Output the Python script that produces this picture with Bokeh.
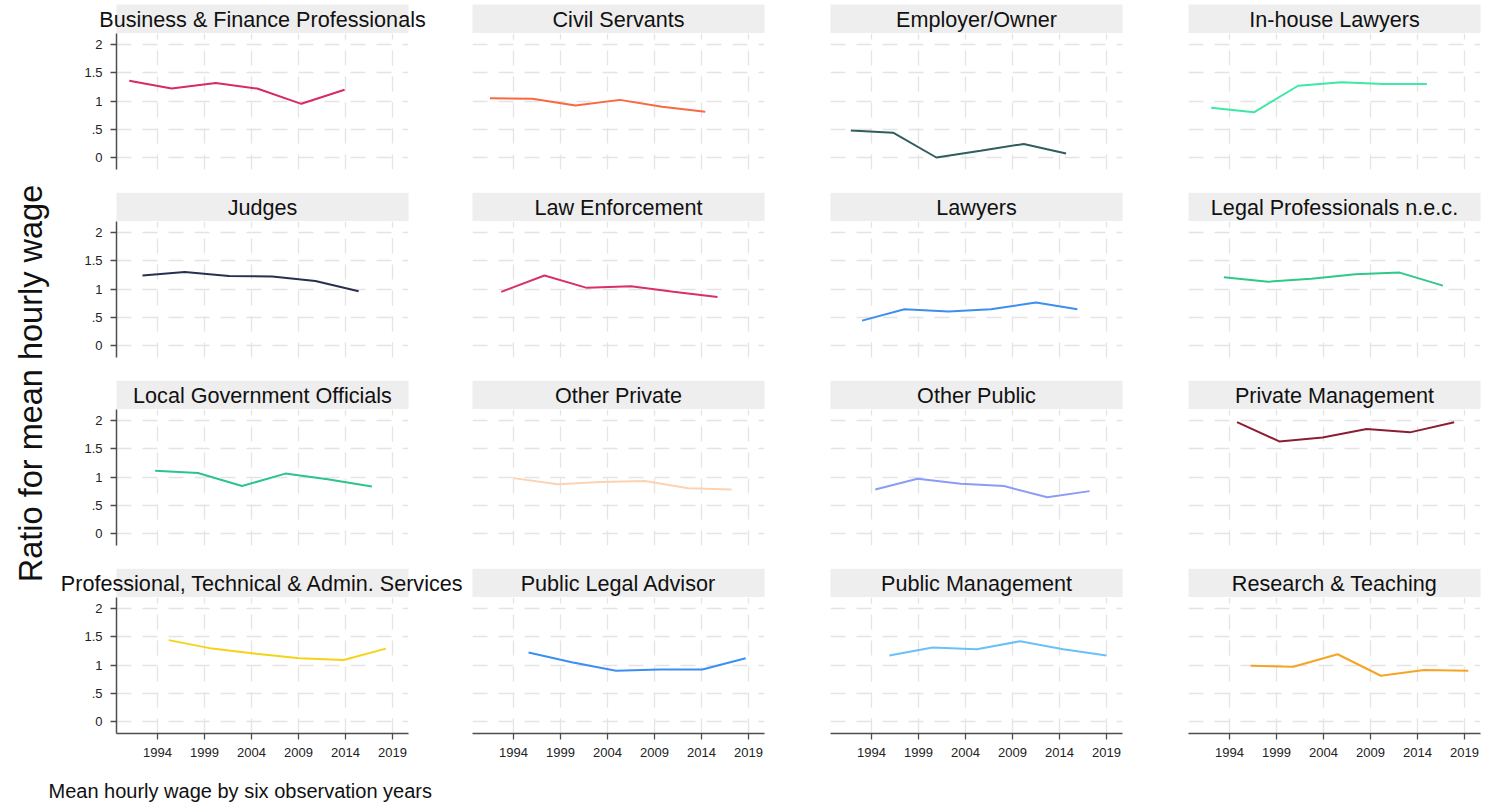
import math
from bokeh.plotting import figure
from bokeh.layouts import row, column
from bokeh.models import Range1d, FixedTicker, BoxAnnotation, Label, CustomJSTickFormatter
from bokeh.embed import file_html
from bokeh.resources import INLINE

# ---------------- data ----------------
TITLES = [
    "Business & Finance Professionals", "Civil Servants", "Employer/Owner", "In-house Lawyers",
    "Judges", "Law Enforcement", "Lawyers", "Legal Professionals n.e.c.",
    "Local Government Officials", "Other Private", "Other Public", "Private Management",
    "Professional, Technical & Admin. Services", "Public Legal Advisor", "Public Management",
    "Research & Teaching",
]
YEAR_TICKS = [1994, 1999, 2004, 2009, 2014, 2019]
RATIO_TICKS = [0, 0.5, 1, 1.5, 2]

X_BF = [1991.0, 1995.5, 2000.2, 2004.6, 2009.3, 2013.9]
Y_BF = [1.36, 1.22, 1.32, 1.22, 0.95, 1.20]
X_CS = [1991.5, 1996.0, 2000.6, 2005.3, 2009.8, 2014.4]
Y_CS = [1.05, 1.04, 0.92, 1.02, 0.90, 0.81]
X_EO = [1991.8, 1996.3, 2000.9, 2005.6, 2010.2, 2014.7]
Y_EO = [0.48, 0.44, 0.00, 0.12, 0.24, 0.07]
X_IH = [1992.05, 1996.6, 2001.3, 2005.9, 2010.4, 2015.0]
Y_IH = [0.88, 0.80, 1.27, 1.33, 1.30, 1.30]
X_JU = [1992.4, 1996.9, 2001.6, 2006.2, 2010.8, 2015.4]
Y_JU = [1.24, 1.30, 1.23, 1.22, 1.14, 0.96]
X_LE = [1992.7, 1997.3, 2001.8, 2006.5, 2011.0, 2015.7]
Y_LE = [0.95, 1.24, 1.02, 1.05, 0.95, 0.86]
X_LA = [1993.0, 1997.5, 2002.2, 2006.7, 2011.5, 2015.9]
Y_LA = [0.44, 0.64, 0.60, 0.64, 0.76, 0.64]
X_LP = [1993.4, 1998.1, 2002.7, 2007.4, 2012.1, 2016.7]
Y_LP = [1.21, 1.13, 1.18, 1.26, 1.29, 1.06]
X_LG = [1993.75, 1998.3, 2003.0, 2007.6, 2012.1, 2016.8]
Y_LG = [1.11, 1.07, 0.84, 1.06, 0.96, 0.83]
X_OPR = [1994.0, 1998.7, 2003.3, 2008.0, 2012.6, 2017.2]
Y_OPR = [0.98, 0.87, 0.91, 0.93, 0.80, 0.78]
X_OPU = [1994.4, 1998.9, 2003.5, 2008.1, 2012.7, 2017.2]
Y_OPU = [0.78, 0.97, 0.88, 0.84, 0.64, 0.75]
X_PM = [1994.8, 1999.3, 2003.9, 2008.6, 2013.2, 2017.9]
Y_PM = [1.97, 1.63, 1.70, 1.85, 1.79, 1.97]
X_PT = [1995.2, 1999.8, 2004.5, 2009.1, 2013.8, 2018.3]
Y_PT = [1.44, 1.29, 1.20, 1.12, 1.09, 1.29]
X_PL = [1995.6, 2000.2, 2004.9, 2009.5, 2014.1, 2018.7]
Y_PL = [1.22, 1.05, 0.90, 0.92, 0.92, 1.12]
X_PU = [1995.9, 2000.5, 2005.2, 2009.8, 2014.4, 2019.0]
Y_PU = [1.17, 1.31, 1.28, 1.42, 1.28, 1.17]
X_RT = [1996.25, 2000.8, 2005.5, 2010.1, 2014.7, 2019.4]
Y_RT = [0.985, 0.97, 1.19, 0.81, 0.91, 0.90]

SERIES_X = [X_BF, X_CS, X_EO, X_IH, X_JU, X_LE, X_LA, X_LP,
            X_LG, X_OPR, X_OPU, X_PM, X_PT, X_PL, X_PU, X_RT]
SERIES_Y = [Y_BF, Y_CS, Y_EO, Y_IH, Y_JU, Y_LE, Y_LA, Y_LP,
            Y_LG, Y_OPR, Y_OPU, Y_PM, Y_PT, Y_PL, Y_PU, Y_RT]

# ---------------- styles ----------------
COLORS = ["#d62b63", "#f8693f", "#2f5f5c", "#3ee8a6",
          "#27304f", "#d8306a", "#3d8ef0", "#2ec98a",
          "#2cc48a", "#fcd3b2", "#8a9cf5", "#8b1e32",
          "#f5d417", "#3a8ef6", "#6cc0f8", "#f4a524"]

FONT = "Liberation Sans"
FRAME_W, FRAME_H = 292, 136
LEFT_B = [56, 8, 33, 33]
RIGHT_B = [56, 33, 33, 10]
STRIP_H = 29
GRID_COLOR = "#e4e4e4"
STRIP_COLOR = "#eeeeee"
X_RANGE = (1994 - 41 / 9.4, 1994 - 41 / 9.4 + FRAME_W / 9.4)
Y_TOP = 2 + 11 / 56.5
Y_RANGE = (Y_TOP - FRAME_H / 56.5, Y_TOP)


def blank_fig(w, h):
    f = figure(width=w, height=h, output_backend="svg", toolbar_location=None,
               x_range=Range1d(0, w), y_range=Range1d(0, h),
               min_border=0, min_border_left=0, min_border_right=0,
               min_border_top=0, min_border_bottom=0, frame_align=False)
    f.axis.visible = False
    f.grid.visible = False
    f.outline_line_color = None
    f.background_fill_color = "white"
    f.border_fill_color = "white"
    return f


def strip_fig(title, c, top_pad):
    w = LEFT_B[c] + FRAME_W + RIGHT_B[c]
    f = blank_fig(w, STRIP_H + top_pad)
    f.add_layout(BoxAnnotation(left=LEFT_B[c], right=LEFT_B[c] + FRAME_W, bottom=0, top=STRIP_H,
                               fill_color=STRIP_COLOR, fill_alpha=1, line_color=None))
    f.add_layout(Label(x=LEFT_B[c] + FRAME_W / 2, y=STRIP_H / 2, text=title,
                       text_align="center", text_baseline="middle",
                       text_font=FONT, text_font_size="21.6px", text_color="#111111"))
    return f


def panel_fig(i, r, c):
    bottom = 37 if r == 3 else 23
    w = LEFT_B[c] + FRAME_W + RIGHT_B[c]
    h = FRAME_H + bottom
    f = figure(width=w, height=h, output_backend="svg", toolbar_location=None,
               x_range=Range1d(*X_RANGE), y_range=Range1d(*Y_RANGE),
               min_border_left=LEFT_B[c], min_border_right=RIGHT_B[c],
               min_border_top=0, min_border_bottom=bottom, frame_align=False)
    f.outline_line_color = None
    f.background_fill_color = "white"
    f.border_fill_color = "white"
    f.xaxis.ticker = FixedTicker(ticks=YEAR_TICKS)
    f.yaxis.ticker = FixedTicker(ticks=RATIO_TICKS)
    f.xgrid.ticker = FixedTicker(ticks=YEAR_TICKS)
    f.ygrid.ticker = FixedTicker(ticks=RATIO_TICKS)
    for g in (f.xgrid, f.ygrid):
        g.grid_line_color = GRID_COLOR
        g.grid_line_width = 1.3
        g.grid_line_dash = "15 11"
    for ax in (f.xaxis, f.yaxis):
        ax.axis_line_color = "#4d4d4d"
        ax.axis_line_width = 1.5
        ax.major_tick_line_color = "#4d4d4d"
        ax.major_tick_line_width = 1.3
        ax.major_tick_out = 6
        ax.major_tick_in = 0
        ax.minor_tick_line_color = None
        ax.major_label_text_font = FONT
        ax.major_label_text_font_size = "13px"
        ax.major_label_text_color = "#222222"
        ax.major_label_standoff = 8
    f.yaxis.formatter = CustomJSTickFormatter(
        code="return tick == 0 ? '0' : String(tick).replace(/^0\\./, '.');")
    f.xaxis.visible = (r == 3)
    f.yaxis.visible = (c == 0)
    f.line(SERIES_X[i], SERIES_Y[i], line_color=COLORS[i], line_width=2)
    return f


rows = []
for r in range(4):
    blocks = []
    for c in range(4):
        i = r * 4 + c
        blocks.append(column(strip_fig(TITLES[i], c, 4 if r == 0 else 0), panel_fig(i, r, c), spacing=0))
    rows.append(row(*blocks, spacing=0))
grid = column(*rows, spacing=0)

grid_h = 33 + 136 + 23 + 2 * 188 + 29 + 136 + 37

ytitle = blank_fig(60, grid_h)
ytitle.add_layout(Label(x=30, y=grid_h - 383, text="Ratio for mean hourly wage", angle=math.pi / 2,
                        text_align="center", text_baseline="middle",
                        text_font=FONT, text_font_size="32.5px", text_color="#111111"))

xtitle = blank_fig(1490, 808 - grid_h)
xtitle.add_layout(Label(x=48, y=808 - grid_h - 20, text="Mean hourly wage by six observation years",
                        text_align="left", text_baseline="middle",
                        text_font=FONT, text_font_size="20px", text_color="#111111"))

p = column(row(ytitle, grid, spacing=0), xtitle, spacing=0)

open("out.html", "w").write(file_html(p, INLINE))
